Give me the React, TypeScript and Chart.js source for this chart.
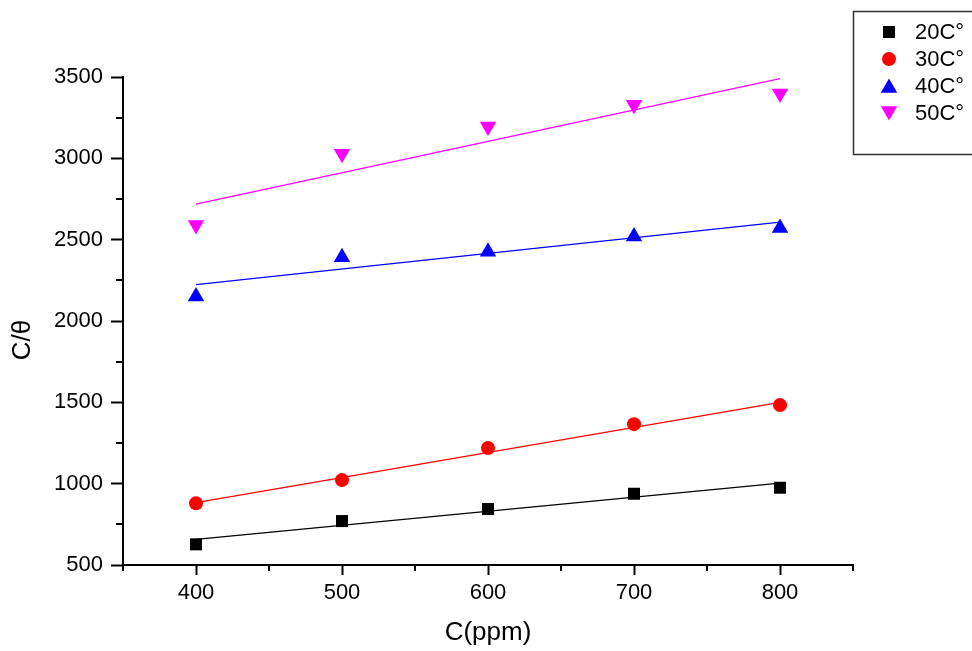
import React, { useEffect, useRef } from 'react';
import { Chart, registerables } from 'chart.js';
import { drawPoint } from 'chart.js/helpers';

Chart.register(...registerables);

const concentrations = [400, 500, 600, 700, 800];
const series20 = [627, 770, 844, 938, 975];
const series30 = [879, 1022, 1219, 1366, 1483];
const series40 = [2150, 2392, 2425, 2520, 2572];
const series50 = [2590, 3028, 3195, 3330, 3398];

const fitX = [400, 800];
const fit20 = [658, 1003];
const fit30 = [884, 1500];
const fit40 = [2224, 2608];
const fit50 = [2718, 3490];

const legendLabels = ['20C°', '30C°', '40C°', '50C°'];
const colors = ['#000000', '#ff0000', '#0000ff', '#ff00ff'];
const pointStyles = ['rect', 'circle', 'triangle', 'triangle'];
const rotations = [0, 0, 0, 180];
const radii = [8.5, 7, 9.5, 9.5];

const xTicks = [400, 500, 600, 700, 800];
const xMinorTicks = [350, 450, 550, 650, 750, 850];
const yTicks = [500, 1000, 1500, 2000, 2500, 3000, 3500];
const yMinorTicks = [750, 1250, 1750, 2250, 2750, 3250];

const xTitle = 'C(ppm)';
const yTitle = 'C/θ';

const FONT = 'Liberation Sans, Arial, sans-serif';

const seriesList = [series20, series30, series40, series50];
const fitList = [fit20, fit30, fit40, fit50];

const minorTicksPlugin = {
  id: 'minorTicks',
  afterDraw(chart: any) {
    const ctx = chart.ctx;
    const xs = chart.scales.x;
    const ys = chart.scales.y;
    ctx.save();
    ctx.strokeStyle = '#000';
    ctx.lineWidth = 2;
    xMinorTicks.forEach((v) => {
      const px = Math.round(xs.getPixelForValue(v));
      ctx.beginPath();
      ctx.moveTo(px, chart.chartArea.bottom);
      ctx.lineTo(px, chart.chartArea.bottom + 6);
      ctx.stroke();
    });
    yMinorTicks.forEach((v) => {
      const py = Math.round(ys.getPixelForValue(v));
      ctx.beginPath();
      ctx.moveTo(chart.chartArea.left, py);
      ctx.lineTo(chart.chartArea.left - 7, py);
      ctx.stroke();
    });
    // y axis title (placed slightly below the centre as in the original)
    ctx.fillStyle = '#000';
    ctx.font = `26px ${FONT}`;
    ctx.textAlign = 'center';
    ctx.textBaseline = 'middle';
    ctx.translate(23, (chart.chartArea.top + chart.chartArea.bottom) / 2 + 19);
    ctx.rotate(-Math.PI / 2);
    ctx.fillText(yTitle, 0, 0);
    ctx.restore();
  },
};

const legendPlugin = {
  id: 'customLegend',
  afterDraw(chart: any) {
    const ctx = chart.ctx;
    ctx.save();
    ctx.strokeStyle = '#333';
    ctx.lineWidth = 1.5;
    ctx.strokeRect(853.5, 11.5, 220, 143);
    const rowY = [32, 59, 86, 113];
    legendLabels.forEach((label, i) => {
      ctx.fillStyle = colors[i];
      ctx.strokeStyle = colors[i];
      const offset = pointStyles[i] === 'triangle' ? (rotations[i] ? -2 : 2) : 0;
      drawPoint(
        ctx,
        { pointStyle: pointStyles[i], rotation: rotations[i], radius: radii[i], borderWidth: 0 } as any,
        889,
        rowY[i] + offset
      );
      ctx.fillStyle = '#000';
      ctx.font = `22px ${FONT}`;
      ctx.textBaseline = 'middle';
      ctx.textAlign = 'left';
      ctx.fillText(label, 915, rowY[i] + 1);
    });
    ctx.restore();
  },
};

export default function App() {
  const canvasRef = useRef<HTMLCanvasElement | null>(null);

  useEffect(() => {
    if (!canvasRef.current) return;
    Chart.defaults.font.family = FONT;
    Chart.defaults.color = '#000';

    const markerSets = seriesList.map((s, i) => ({
      label: legendLabels[i],
      data: concentrations.map((x, j) => ({ x, y: s[j] })),
      showLine: false,
      pointStyle: pointStyles[i],
      rotation: rotations[i],
      pointRadius: radii[i],
      pointBackgroundColor: colors[i],
      pointBorderWidth: 0,
      borderColor: colors[i],
    }));
    const fitSets = fitList.map((f, i) => ({
      label: legendLabels[i] + ' fit',
      data: fitX.map((x, j) => ({ x, y: f[j] })),
      showLine: true,
      pointRadius: 0,
      borderColor: colors[i],
      borderWidth: 1.2,
      fill: false,
    }));

    const chart = new Chart(canvasRef.current, {
      type: 'scatter',
      data: { datasets: [...markerSets, ...fitSets] as any },
      options: {
        responsive: false,
        animation: false,
        layout: { padding: { left: 0, top: 77, right: 119, bottom: 0 } },
        plugins: { legend: { display: false }, tooltip: { enabled: false } },
        scales: {
          x: {
            type: 'linear',
            min: 350,
            max: 850,
            afterBuildTicks: (scale: any) => {
              scale.ticks = xTicks.map((v) => ({ value: v }));
            },
            afterFit: (scale: any) => {
              scale.height = 86;
            },
            grid: { drawOnChartArea: false, tickLength: 10, tickWidth: 2, tickColor: '#000' },
            border: { color: '#000', width: 2 },
            ticks: { font: { size: 22 }, padding: 5, color: '#000', callback: (v: any) => String(v) },
            title: {
              display: true,
              text: xTitle,
              font: { size: 26 },
              padding: { top: 0, bottom: 3 },
              color: '#000',
            },
          },
          y: {
            type: 'linear',
            min: 500,
            max: 3500,
            afterBuildTicks: (scale: any) => {
              scale.ticks = yTicks.map((v) => ({ value: v }));
            },
            afterFit: (scale: any) => {
              scale.width = 123;
            },
            grid: { drawOnChartArea: false, tickLength: 12, tickWidth: 2, tickColor: '#000' },
            border: { color: '#000', width: 2 },
            ticks: { font: { size: 22 }, padding: 8, color: '#000', callback: (v: any) => String(v) },
            title: { display: false },
          },
        },
      },
      plugins: [minorTicksPlugin, legendPlugin],
    });
    return () => chart.destroy();
  }, []);

  return (
    <div style={{ position: 'absolute', left: 0, top: 0, width: 972, height: 651, background: '#fff' }}>
      <canvas ref={canvasRef} width={972} height={651} />
    </div>
  );
}
